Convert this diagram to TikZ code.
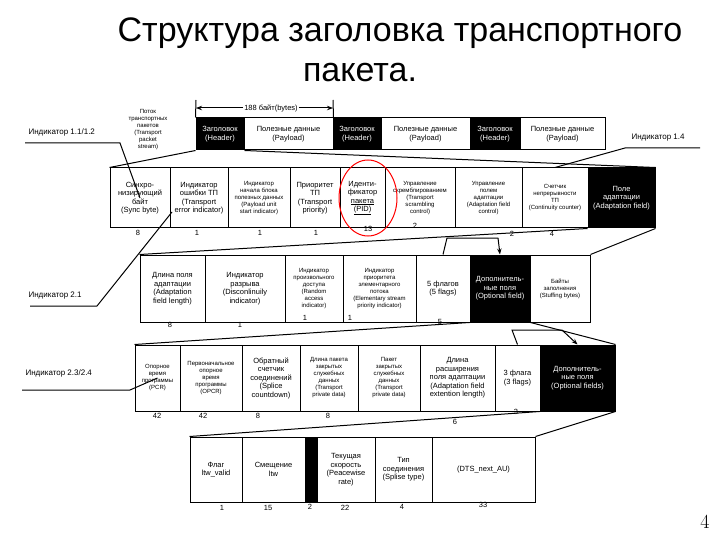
\documentclass[tikz,border=0pt]{standalone}
\usepackage{fontspec}
\setmainfont{Liberation Sans}
\usetikzlibrary{arrows.meta}
\begin{document}
\begin{tikzpicture}[x=1pt,y=-1pt,
 cell/.style={draw,line width=1pt,inner sep=0pt,align=center,font=\fontsize{7.5}{8.5}\selectfont},
 sm/.style={font=\fontsize{6}{7}\selectfont},
 blk/.style={fill=black,text=white},
 num/.style={font=\fontsize{7.5}{9}\selectfont},
 lbl/.style={font=\fontsize{8}{9}\selectfont},
 ln/.style={line width=1pt},
 arr/.style={line width=1pt,-{Stealth[length=6pt]}}]
\useasboundingbox (0,0) rectangle (720,540);
\node (t1) at (400,33) {\fontsize{34}{38}\selectfont Структура заголовка транспортного};
\node (t2) at (360,73) {\fontsize{34}{38}\selectfont пакета.};
\node (pg) at (705,522) {\fontfamily{lmr}\selectfont\fontsize{20}{22}\selectfont 4};
% top strip
\newcommand\cellat[5]{\node[cell,minimum width=#3-#2,minimum height=#5-#4,#1] at ({(#2+#3)/2},{(#4+#5)/2})}
\cellat{blk}{196}{244}{118}{150} (h1) {Заголовок\\(Header)};
\cellat{}{244}{333}{118}{150} (p1) {Полезные данные\\(Payload)};
\cellat{blk}{333}{381}{118}{150} (h2) {Заголовок\\(Header)};
\cellat{}{381}{470}{118}{150} (p2) {Полезные данные\\(Payload)};
\cellat{blk}{470}{520}{118}{150} (h3) {Заголовок\\(Header)};
\cellat{}{520}{605}{118}{150} (p3) {Полезные данные\\(Payload)};
\coordinate (bl) at (196,100); \coordinate (br) at (333,100);
\draw[ln] (bl) -- (h1.north west); \draw[ln] (br) -- (p1.north east);
\node[num,fill=white,inner sep=1pt] (by) at (271,108) {188 байт(bytes)};
\draw[arr] (by.west) -- (196,108); \draw[arr] (by.east) -- (333,108);
\node[sm,align=center] (ps) at (148,130) {Поток\\транспортных\\пакетов\\(Transport\\packet\\stream)};
% row1
\cellat{}{110}{170}{168}{228} (a1) {Синхро-\\низирующий\\байт\\(Sync byte)};
\cellat{}{170}{228}{168}{228} (a2) {Индикатор\\ошибки ТП\\(Transport\\error indicator)};
\cellat{sm}{228}{290}{168}{228} (a3) {Индикатор\\начала блока\\полезных данных\\(Payload unit\\start indicator)};
\cellat{}{290}{340}{168}{228} (a4) {Приоритет\\ТП\\(Transport\\priority)};
\cellat{}{340}{385}{168}{228} (a5) {Иденти-\\фикатор\\\underline{пакета}\\\underline{(PID)}};
\cellat{sm}{385}{455}{168}{228} (a6) {Управление\\скремблированием\\(Transport\\scrambling\\control)};
\cellat{sm}{455}{522}{168}{228} (a7) {Управление\\полем\\адаптации\\(Adaptation field\\control)};
\cellat{sm}{522}{588}{168}{228} (a8) {Счетчик\\непрерывности\\ТП\\(Continuity counter)};
\cellat{blk}{588}{655}{168}{228} (a9) {Поле\\адаптации\\(Adaptation field)};
\draw[ln] (h1.south west) -- (a1.north west);
\draw[ln] (h1.south east) -- (a9.north east);
\draw[red,line width=1pt] (368,198) ellipse [x radius=29, y radius=38];
\foreach \x/\y/\t in {138/233/8,197/233/1,260/233/1,316/233/1,368/229/13,415/226/2,512/234/2,552/234/4}
 \node[num] at (\x,\y) {\t};
\node[lbl,anchor=west] (i1) at (25,132) {Индикатор 1.1/1.2};
\coordinate (i1a) at (25,143); \coordinate (i1b) at (120,143);
\draw[ln] (i1a) -- (i1b) -- (a1.center);
\node[lbl,anchor=west] (i4) at (628,138) {Индикатор 1.4};
\coordinate (i4a) at (700,148); \coordinate (i4b) at (625,148);
\draw[ln] (i4a) -- (i4b) -- (a8.north);
% row2
\cellat{}{140}{205}{255}{322} (b1) {Длина поля\\адаптации\\(Adaptation\\field length)};
\cellat{}{205}{285}{255}{322} (b2) {Индикатор\\разрыва\\(Disconlinuily\\indicator)};
\cellat{sm}{285}{343}{255}{322} (b3) {Индикатор\\произвольного\\доступа\\(Random\\access\\indicator)};
\cellat{sm}{343}{416}{255}{322} (b4) {Индикатор\\приоритета\\элементарного\\потока\\(Elementary stream\\priority indicator)};
\cellat{}{416}{470}{255}{322} (b5) {5 флагов\\(5 flags)};
\cellat{blk}{470}{530}{255}{322} (b6) {Дополнитель-\\ные поля\\(Optional field)};
\cellat{sm}{530}{590}{255}{322} (b7) {Байты\\заполнения\\(Stuffing bytes)};
\draw[ln] (a9.south west) -- (b1.north west);
\draw[ln] (a9.south east) -- (b7.north east);
\coordinate (k1) at (447,238); \coordinate (k2) at (498,238);
\draw[ln] (b5.north) -- (k1) -- (k2);
\draw[arr] (k2) -- (b6.north);
\foreach \x/\y/\t in {170/325/8,240/325/1,305/318/1,350/318/1,440/322/5}
 \node[num] at (\x,\y) {\t};
\node[lbl,anchor=west] (i2) at (25,296) {Индикатор 2.1};
\coordinate (i2a) at (30,306); \coordinate (i2b) at (97,306);
\draw[ln] (i2a) -- (i2b) -- (172,212);
% row3
\cellat{sm}{135}{180}{345}{411} (c1) {Опорное\\время\\программы\\(PCR)};
\cellat{sm}{180}{242}{345}{411} (c2) {Первоначальное\\опорное\\время\\программы\\(OPCR)};
\cellat{}{242}{300}{345}{411} (c3) {Обратный\\счетчик\\соединений\\(Splice\\countdown)};
\cellat{sm}{300}{358}{345}{411} (c4) {Длина пакета\\закрытых\\служебных\\данных\\(Transport\\private data)};
\cellat{sm}{358}{420}{345}{411} (c5) {Пакет\\закрытых\\служебных\\данных\\(Transport\\private data)};
\cellat{}{420}{495}{345}{411} (c6) {Длина\\расширения\\поля адаптации\\(Adaptation field\\extention length)};
\cellat{}{495}{540}{345}{411} (c7) {3 флага\\(3 flags)};
\cellat{blk}{540}{615}{345}{411} (c8) {Дополнитель-\\ные поля\\(Optional fields)};
\draw[ln] (b6.south west) -- (c1.north west);
\draw[ln] (b6.south east) -- (c8.north east);
\coordinate (m1) at (512,330); \coordinate (m2) at (562,330);
\draw[ln] (c7.north) -- (m1) -- (m2);
\draw[arr] (m2) -- (c8.north);
\foreach \x/\y/\t in {157/416/42,203/416/42,258/416/8,328/416/8,516/412/3,455/422/6}
 \node[num] at (\x,\y) {\t};
\node[lbl,anchor=west] (i3) at (22,373) {Индикатор 2.3/2.4};
\coordinate (i3a) at (22,390); \coordinate (i3b) at (130,390);
\draw[ln] (i3a) -- (i3b) -- (c1.center);
% row4
\cellat{}{190}{242}{437}{502} (d1) {Флаг\\ltw\_valid};
\cellat{}{242}{305}{437}{502} (d2) {Смещение\\ltw};
\cellat{blk}{305}{317}{437}{502} (d3) {};
\cellat{}{317}{375}{437}{502} (d4) {Текущая\\скорость\\(Peacewise\\rate)};
\cellat{}{375}{432}{437}{502} (d5) {Тип\\соединения\\(Splise type)};
\cellat{}{432}{535}{437}{502} (d6) {(DTS\_next\_AU)};
\draw[ln] (c8.south west) -- (d1.north west);
\draw[ln] (c8.south east) -- (d6.north east);
\foreach \x/\y/\t in {222/508/1,268/508/15,310/507/2,345/508/22,402/507/4,483/505/33}
 \node[num] at (\x,\y) {\t};
\end{tikzpicture}
\end{document}
